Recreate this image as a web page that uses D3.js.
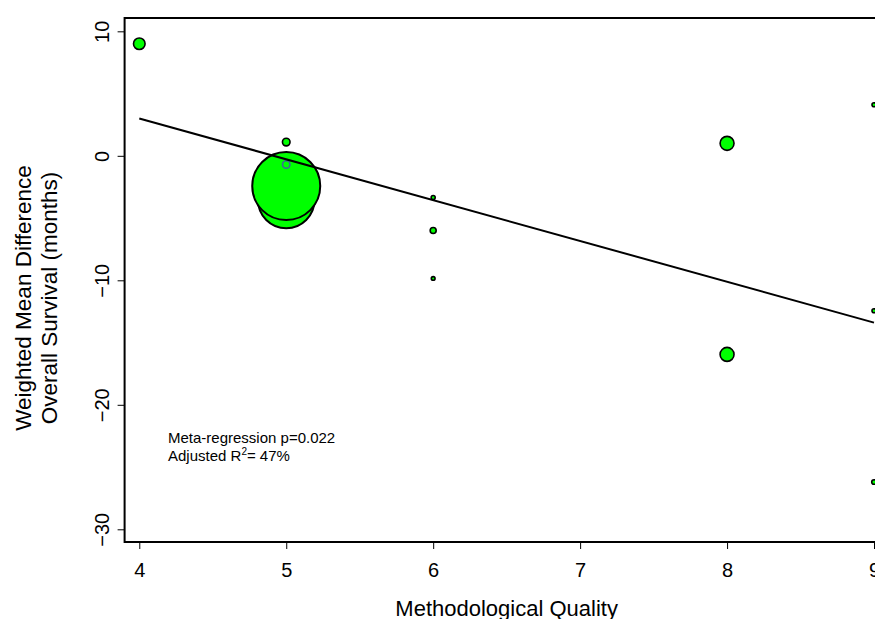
<!DOCTYPE html>
<html><head><meta charset="utf-8">
<script src="https://cdn.jsdelivr.net/npm/d3@7/dist/d3.min.js"></script>
<style>body{margin:0;background:#fff}svg{display:block}text{font-family:"Liberation Sans",Arial,sans-serif}</style>
</head><body><svg id="c" width="875" height="619"></svg>
<script>
// Data
const quality = [5, 5, 4, 5, 5, 6, 6, 6, 8, 8, 9, 9, 9];
const wmd     = [-3.55, -2.43, 9.0, 1.1, -0.7, -3.35, -6.0, -9.85, 1.0, -15.95, 4.1, -12.45, -26.2];
const weight  = [69, 100, 2.9, 1.25, 1.2, 0.35, 0.78, 0.3, 4.2, 4.2, 0.35, 0.35, 0.46];
const ringCol = ["#000","#000","#000","#000","#3b6a9a","#000","#000","#000","#000","#000","#000","#000","#000"];
const xTicks = [4, 5, 6, 7, 8, 9];
const yTicks = [10, 0, -10, -20, -30];
const regX = [4, 9];
const regY = [3.0, -13.4];
const annot1 = "Meta-regression p=0.022";
const xLabel = "Methodological Quality";
const yLabel1 = "Weighted Mean Difference";
const yLabel2 = "Overall Survival (months)";

const svg = d3.select("#c");
const x = d3.scaleLinear().domain([3.9, 9.1]).range([124.6, 888.7]);
const y = d3.scaleLinear().domain([-31.02, 11.07]).range([542, 18]);
const r = d3.scaleSqrt().domain([0, 100]).range([0, 34]);

// points
const pts = quality.map((q,i)=>({q, v:wmd[i], w:weight[i], c:ringCol[i]}));
svg.append("g").selectAll("circle").data(pts).join("circle")
  .attr("cx", d=>x(d.q)).attr("cy", d=>y(d.v)).attr("r", d=>r(d.w))
  .attr("fill", "#00ff00").attr("stroke", d=>d.c)
  .attr("stroke-width", d=> d.w > 10 ? 2 : 1.6);

// regression line
svg.append("line")
  .attr("x1", x(regX[0])).attr("y1", y(regY[0]))
  .attr("x2", x(regX[1])).attr("y2", y(regY[1]))
  .attr("stroke", "#000").attr("stroke-width", 2);

// box
svg.append("rect").attr("x", x.range()[0]).attr("y", y.range()[1])
  .attr("width", x.range()[1]-x.range()[0]).attr("height", y.range()[0]-y.range()[1])
  .attr("fill", "none").attr("stroke", "#000").attr("stroke-width", 2);

// y axis
const ya = svg.append("g").attr("transform", `translate(${x.range()[0]},0)`)
  .call(d3.axisLeft(y).tickValues(yTicks).tickSize(7).tickFormat(d=>d<0?"\u2212"+Math.abs(d):d));
ya.select(".domain").remove();
ya.selectAll(".tick line").attr("stroke", "#000").attr("stroke-width", 1);
ya.selectAll(".tick text").attr("font-size", 20).attr("fill", "#000")
  .attr("font-family", "Liberation Sans, Arial, sans-serif")
  .attr("x", null).attr("dy", null)
  .attr("text-anchor", "middle")
  .attr("transform", "translate(-16,0) rotate(-90)");

// x axis
const xa = svg.append("g").attr("transform", `translate(0,${y.range()[0]})`)
  .call(d3.axisBottom(x).tickValues(xTicks).tickSize(7).tickFormat(d3.format("d")));
xa.select(".domain").remove();
xa.selectAll(".tick line").attr("stroke", "#000").attr("stroke-width", 1);
xa.selectAll(".tick text").attr("font-size", 20).attr("fill", "#000")
  .attr("font-family", "Liberation Sans, Arial, sans-serif")
  .attr("y", 35).attr("dy", null);

// axis labels
svg.append("text").attr("x", (x.range()[0]+x.range()[1])/2).attr("y", 616)
  .attr("text-anchor", "middle").attr("font-size", 22).text(xLabel);
const cy = 298;
svg.append("text").attr("transform", `translate(31,${cy}) rotate(-90)`)
  .attr("text-anchor", "middle").attr("font-size", 22.5).text(yLabel1);
svg.append("text").attr("transform", `translate(57,${cy}) rotate(-90)`)
  .attr("text-anchor", "middle").attr("font-size", 22.5).text(yLabel2);

// annotation
svg.append("text").attr("x", 168).attr("y", 443).attr("font-size", 15).text(annot1);
const t2 = svg.append("text").attr("x", 168).attr("y", 461).attr("font-size", 15);
t2.append("tspan").text("Adjusted R");
t2.append("tspan").attr("font-size", 10).attr("dy", -6).text("2");
t2.append("tspan").attr("dy", 6).text("= 47%");
</script></body></html>
